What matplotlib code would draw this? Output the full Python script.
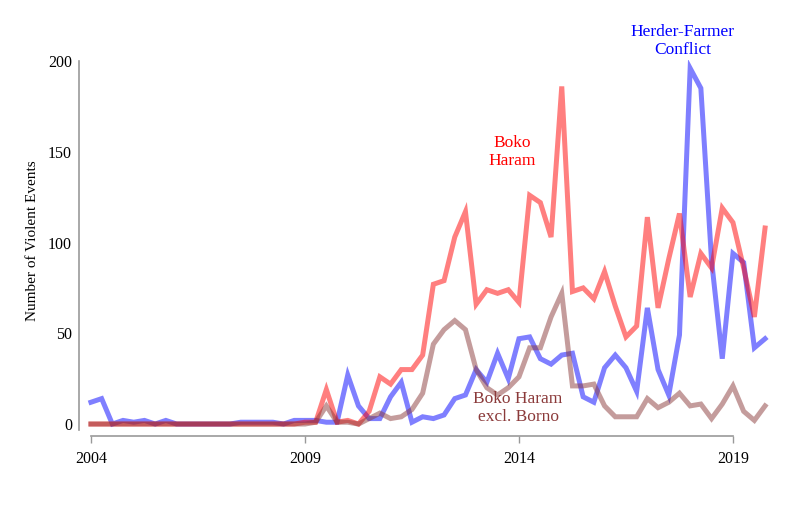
import numpy as np
import matplotlib
matplotlib.use("Agg")
import matplotlib.pyplot as plt

plt.rcParams['font.family'] = ['Liberation Serif', 'DejaVu Serif']

# quarterly counts, 2004 Q1 .. 2019 Q4
herder_farmer = [12, 14, 0, 2, 1, 2, 0, 2, 0, 0, 0, 0, 0, 0, 1, 1, 1, 1, 0, 2,
                 2, 2, 1, 1, 27, 10, 3, 3, 15, 23, 1, 4, 3, 5, 14, 16, 30, 23, 39, 25,
                 47, 48, 36, 33, 38, 39, 15, 12, 31, 38, 31, 18, 64, 30, 16, 49,
                 196, 185, 90, 36, 94, 89, 42, 47]
boko_haram = [0, 0, 0, 0, 0, 0, 0, 0, 0, 0, 0, 0, 0, 0, 0, 0, 0, 0, 0, 0,
              1, 1, 19, 1, 2, 0, 7, 26, 22, 30, 30, 38, 77, 79, 103, 117, 66, 74, 72, 74,
              67, 126, 122, 103, 186, 73, 75, 69, 84, 65, 48, 54, 114, 64, 91, 116,
              70, 94, 86, 119, 111, 86, 59, 108]
bh_excl_borno = [0, 0, 0, 0, 0, 0, 0, 0, 0, 0, 0, 0, 0, 0, 0, 0, 0, 0, 0, 0,
                 0, 1, 10, 1, 1, 0, 3, 6, 3, 4, 8, 17, 44, 52, 57, 52, 30, 20, 16, 20,
                 26, 42, 42, 59, 72, 21, 21, 22, 10, 4, 4, 4, 14, 9, 12, 17,
                 10, 11, 3, 11, 21, 7, 2, 10]
years = 2004 + np.arange(len(boko_haram)) / 4
year_ticks = [2004, 2009, 2014, 2019]
y_ticks = [0, 50, 100, 150, 200]

fig = plt.figure(figsize=(7.92, 5.25), dpi=100)
ax = fig.add_axes([0.0997, 0.1695, 0.8798, 0.716])

ax.plot(years, herder_farmer, color='blue', alpha=0.5, lw=3.6, solid_joinstyle='miter')
ax.plot(years, boko_haram, color='red', alpha=0.5, lw=3.6, solid_joinstyle='miter')
ax.plot(years, bh_excl_borno, color='#8b3a3a', alpha=0.5, lw=3.6, solid_joinstyle='miter')

ax.text(2017.83, 211, 'Herder-Farmer\nConflict', color='blue', ha='center', va='center', fontsize=12.5)
ax.text(2013.84, 150, 'Boko\nHaram', color='red', ha='center', va='center', fontsize=12.5)
ax.text(2013.98, 8.8, 'Boko Haram\nexcl. Borno', color='#8b3a3a', ha='center', va='center', fontsize=12.5)

ax.set_xlim(2003.72, 2020)
ax.set_ylim(-6.6, 200.5)
ax.set_xticks(year_ticks)
ax.set_yticks(y_ticks)
ax.tick_params(axis='y', length=0, pad=5, labelsize=11.5)
ax.tick_params(axis='x', length=5, width=1, color='#999999', pad=6, labelsize=11.5)

for s in ['top', 'right']:
    ax.spines[s].set_visible(False)
ax.spines['left'].set_bounds(-3.3, 200)
ax.spines['bottom'].set_bounds(2004, 2019)
ax.spines['left'].set_color('#999999')
ax.spines['bottom'].set_color('#999999')
ax.spines['left'].set_linewidth(1.2)
ax.spines['bottom'].set_linewidth(1.2)

ax.set_ylabel('Number of Violent Events', fontsize=11)
ax.yaxis.set_label_coords(-0.058, 0.52)

fig.savefig('out.png', dpi=100)
